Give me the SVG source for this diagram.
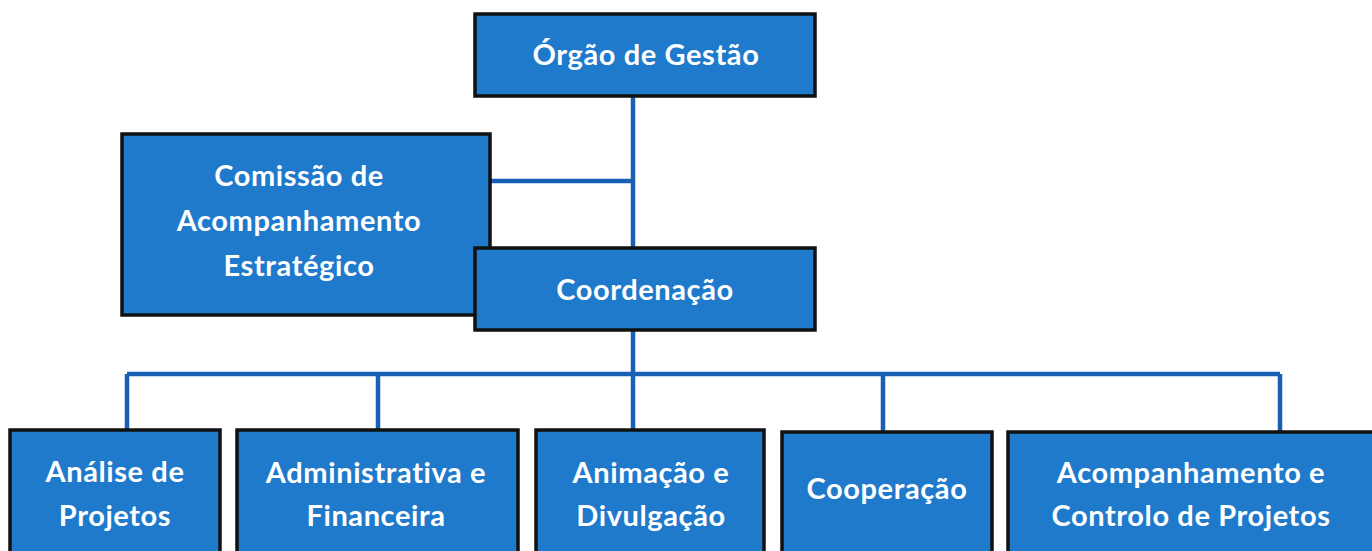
<svg xmlns="http://www.w3.org/2000/svg" width="1372" height="551" viewBox="0 0 1372 551">
<style>
.box{fill:#1F7ACB;stroke:#111;stroke-width:3.5}
.lbl{font-family:Lato,"Open Sans",sans-serif;font-weight:bold;font-size:29px;letter-spacing:0.6px;fill:#fff;text-anchor:middle}
.con{stroke:#1A5FB6;stroke-width:4.5;fill:none}
</style>
<rect width="1372" height="551" fill="#fff"/>
<g id="connectors">
<path class="con" d="M633 96V248M490 181H633M633 330V374M127 374H1280M127 374V430M378 374V430M633 374V430M883 374V432M1280 374V432"/>
</g>
<g id="orgao">
<rect class="box" x="475" y="14" width="340" height="82"/>
<text class="lbl" x="646" y="65">Órgão de Gestão</text>
</g>
<g id="comissao">
<rect class="box" x="122" y="134" width="368" height="181"/>
<text class="lbl" x="299" y="186">Comissão de</text>
<text class="lbl" x="299" y="231">Acompanhamento</text>
<text class="lbl" x="299" y="276">Estratégico</text>
</g>
<g id="coordenacao">
<rect class="box" x="475" y="248" width="340" height="82"/>
<text class="lbl" x="645" y="300">Coordenação</text>
</g>
<g id="analise">
<rect class="box" x="10" y="430" width="210" height="130"/>
<text class="lbl" x="115" y="482">Análise de</text>
<text class="lbl" x="115" y="526">Projetos</text>
</g>
<g id="administrativa">
<rect class="box" x="237" y="430" width="281" height="130"/>
<text class="lbl" x="376" y="483">Administrativa e</text>
<text class="lbl" x="376" y="526">Financeira</text>
</g>
<g id="animacao">
<rect class="box" x="536" y="430" width="228" height="130"/>
<text class="lbl" x="651" y="483">Animação e</text>
<text class="lbl" x="651" y="526">Divulgação</text>
</g>
<g id="cooperacao">
<rect class="box" x="782" y="432" width="210" height="128"/>
<text class="lbl" x="887" y="499">Cooperação</text>
</g>
<g id="acompanhamento">
<rect class="box" x="1008" y="432" width="370" height="128"/>
<text class="lbl" x="1191" y="483">Acompanhamento e</text>
<text class="lbl" x="1191" y="526">Controlo de Projetos</text>
</g>
</svg>
